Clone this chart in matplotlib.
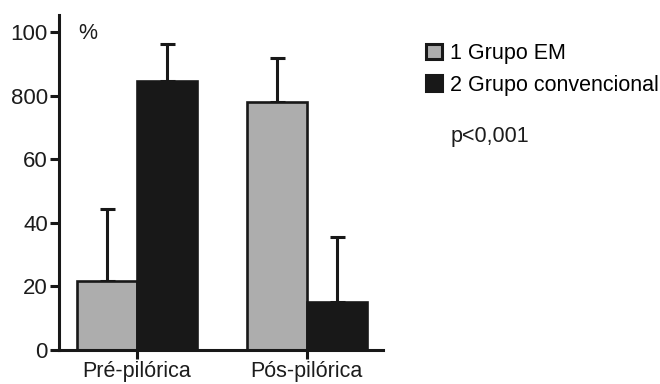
import matplotlib.pyplot as plt
from matplotlib.patches import Patch
import numpy as np

plt.rcParams['font.family'] = ['Liberation Sans', 'DejaVu Sans']

# data
categories = ['Pré-pilórica', 'Pós-pilórica']
grupo_em = [21.7, 77.9]
grupo_em_err = [22.6, 14.1]
grupo_conv = [84.7, 15.2]
grupo_conv_err = [11.5, 20.5]
yticks = [0, 20, 40, 60, 80, 100]
ytick_labels = ['0', '20', '40', '60', '800', '100']

gray = '#adadad'
dark = '#181818'
txt = '#1c1c1c'
fs = 15.5

fig = plt.figure(figsize=(6.6, 3.84), dpi=100)
ax = fig.add_axes([59/660, 34/384, 324/660, 335/384])

x = np.arange(len(categories))
w = 0.353
lw_edge = 1.9

ax.errorbar(x - w/2, grupo_em, yerr=[np.zeros(2), grupo_em_err], fmt='none',
            ecolor=dark, elinewidth=2.2, capsize=5.4, capthick=2.2, zorder=1)
ax.errorbar(x + w/2, grupo_conv, yerr=[np.zeros(2), grupo_conv_err], fmt='none',
            ecolor=dark, elinewidth=2.2, capsize=5.4, capthick=2.2, zorder=1)
ax.bar(x - w/2, grupo_em, w, color=gray, edgecolor=dark, linewidth=lw_edge, zorder=2)
ax.bar(x + w/2, grupo_conv, w, color=dark, edgecolor=dark, linewidth=lw_edge, zorder=2)

ax.set_xlim(-0.46, 1.45)
ax.set_ylim(0, 105.4)
ax.set_xticks(x)
ax.set_xticklabels(categories)
ax.set_yticks(yticks)
ax.set_yticklabels(ytick_labels)

for s in ['top', 'right']:
    ax.spines[s].set_visible(False)
for s in ['left', 'bottom']:
    ax.spines[s].set_linewidth(2.2)
    ax.spines[s].set_color(dark)
ax.tick_params(axis='both', width=2.2, length=6.5, color=dark, labelsize=fs,
               labelcolor=txt, pad=1.5)
ax.tick_params(axis='y', labelsize=16)
ax.tick_params(axis='x', pad=1.5)

ax.text(0.058, 0.945, '%', transform=ax.transAxes, fontsize=fs, color=txt,
        ha='left', va='center')

handles = [Patch(facecolor=gray, edgecolor=dark, linewidth=2.2),
           Patch(facecolor=dark, edgecolor=dark, linewidth=2.2)]
fig.legend(handles, ['1 Grupo EM', '2 Grupo convencional'], loc='upper left',
           bbox_to_anchor=(426/660, 1 - 43/384), frameon=False, fontsize=fs,
           handlelength=0.75, handleheight=0.75, handletextpad=0.35, labelspacing=0.5,
           borderaxespad=0, borderpad=0)
fig.text(451/660, 1 - 137/384, 'p<0,001', fontsize=fs, color=txt,
         ha='left', va='center')

fig.savefig('out.png', dpi=100)
